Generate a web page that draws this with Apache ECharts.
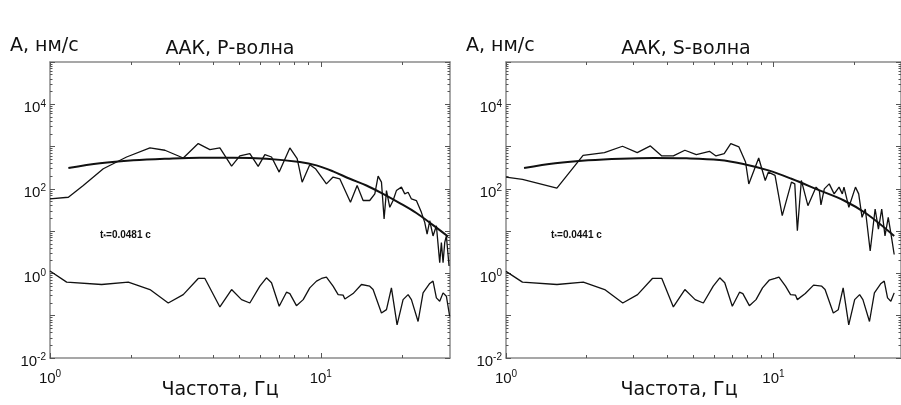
<!DOCTYPE html>
<html>
<head>
<meta charset="utf-8">
<script src="https://cdn.jsdelivr.net/npm/echarts@6/dist/echarts.min.js"></script>
<style>
html,body{margin:0;padding:0;background:#fff;}
#chart{width:901px;height:405px;}
</style>
</head>
<body>
<div id="chart"></div>
<script>
// ---------- data ----------
// P-wave panel
const freqP = [1.000,1.169,1.327,1.573,1.918,2.339,2.657,3.105,3.527,3.894,4.240,4.683,5.024,5.470,5.872,6.215,6.577,7.020,7.686,8.179,8.534,9.105,9.557,10.49,11.10,11.75,12.87,13.62,14.33,15.16,15.83,16.28,16.75,17.13,17.48,17.98,18.49,19.02,19.85,20.42,21.01,21.61,22.54,23.52,24.20,24.69,25.25,25.97,26.72,27.49,27.88,28.28,28.69,29.09,29.76];
const ampP = [57.8,63.3,120,299,567,930,818,537,1178,849,930,346,600,681,340,645,567,249,930,518,144,373,299,131,190,173,48,120,53,53,76,200,144,19.3,91,36.6,53,91,110,76,83,57.8,53,27.8,16.1,8.5,17.6,7.7,13.4,1.8,5.4,1.8,5.4,7.7,1.5];
const fitFreqP = [1.169,1.529,2.030,2.695,3.577,4.749,6.30,8.37,9.64,11.10,12.80,14.74,16.98,19.56,22.54,25.97,29.5];
const fitP = [310,401,473,518,547,547,518,431,359,259,173,120,76,46,26.8,13.9,7.5];
const noiseFreqP = [1,1.152,1.551,1.946,2.339,2.733,3.105,3.527,3.733,4.240,4.683,5.097,5.470,5.956,6.30,6.577,7.020,7.47,7.686,8.13,8.61,9.105,9.64,10.06,10.49,11.10,11.59,12.09,12.27,13.16,14.13,15.16,15.60,16.75,17.48,18.23,19.13,20.13,21.01,21.61,22.87,23.86,25.25,25.97,26.72,27.49,28.28,29.09,29.92];
const noiseP = [1.14,0.622,0.547,0.622,0.416,0.200,0.316,0.760,0.760,0.161,0.416,0.240,0.200,0.499,0.789,0.600,0.167,0.360,0.334,0.173,0.240,0.456,0.657,0.760,0.818,0.499,0.316,0.307,0.249,0.334,0.547,0.499,0.416,0.116,0.139,0.456,0.061,0.240,0.316,0.240,0.073,0.347,0.578,0.657,0.264,0.219,0.347,0.289,0.096];

// S-wave panel
const freqS = [1,1.152,1.550,1.942,2.334,2.727,3.096,3.467,3.826,4.225,4.665,5.149,5.766,6.100,6.546,6.927,7.432,7.866,8.09,8.81,9.32,9.58,10.14,10.79,11.68,12.02,12.29,12.72,13.46,14.44,14.85,15.06,15.50,16.17,16.87,17.60,18.10,18.36,19.15,20.27,20.84,21.45,22.06,23.01,24.01,24.70,25.41,26.14,26.88,27.65,28.29];
const ampS = [190,167,104,622,720,1018,720,1037,600,600,818,645,774,600,681,1178,982,431,131,537,158,249,208,23.2,144,131,10.2,158,40.1,110,91,41.6,100,131,76,110,76,110,36.6,110,76,21.2,33.4,3.4,33.4,11.2,33.4,7.7,21.2,7.1,2.8];
const fitFreqS = [1.168,1.528,2.027,2.689,3.566,4.730,6.275,7.645,9.58,11.68,14.64,18.36,22.37,28.29];
const fitS = [310,401,473,518,537,527,482,394,273,173,96,53,25.4,7.7];
const noiseFreqS = [1,1.152,1.551,1.946,2.339,2.733,3.105,3.527,3.826,4.225,4.665,5.097,5.470,5.956,6.30,6.577,7.020,7.47,7.686,8.13,8.61,9.105,9.64,10.14,10.49,11.10,11.59,12.09,12.29,13.16,14.13,15.16,15.60,16.75,17.48,18.23,19.13,20.13,21.01,21.61,22.87,23.86,25.25,25.97,26.72,27.49,28.29];
const noiseS = [1.12,0.622,0.547,0.622,0.416,0.200,0.316,0.760,0.760,0.161,0.416,0.240,0.200,0.499,0.789,0.600,0.167,0.360,0.334,0.173,0.240,0.456,0.690,0.760,0.818,0.499,0.316,0.307,0.240,0.334,0.530,0.499,0.416,0.116,0.139,0.456,0.061,0.240,0.316,0.240,0.073,0.347,0.578,0.657,0.264,0.219,0.347];

// axis ticks / labels
const xLabelVals = [1, 10];
const xMajorTicks = [1, 10];
const xMinorTicks = [2,3,4,5,6,7,8,9,20];
const yLabelVals = [0.01, 1, 100, 10000];
const yMajorTicks = [0.01, 0.1, 1, 10, 100, 1000, 10000, 100000];
const yMinorTicks = [];
for (let d = -2; d < 5; d++) for (let k = 2; k <= 9; k++) yMinorTicks.push(+(k * Math.pow(10, d)).toPrecision(3));

const titles = ['ААК, Р-волна', 'ААК, S-волна'];
const tLabels = ['0.0481 с', '0.0441 с'];
const yName = 'А, нм/с';
const xName = 'Частота, Гц';

// ---------- chart ----------
const zip = (a, b) => a.map((v, i) => [v, b[i]]);
const AX = '#8a8a8a';
const TK = '#555';
const richLbl = {
  b: {fontSize: 15, fontFamily: 'Liberation Sans', color: '#111'},
  e: {fontSize: 10, fontFamily: 'Liberation Sans', color: '#111', padding: [0, 0, 9, 0]}
};
const fmt = v => '{b|10}{e|' + Math.round(Math.log10(v)) + '}';

const grids = [
  {left: 50, top: 62, width: 400, height: 296},
  {left: 506, top: 62, width: 401, height: 296}
];
const xAxes = [], yAxes = [];
grids.forEach((g, gi) => {
  ['bottom', 'top'].forEach(pos => {
    xAxes.push({type: 'log', gridIndex: gi, min: 1, max: 30, position: pos,
      axisLine: {show: true, lineStyle: {color: AX, width: 1.5}},
      axisTick: {show: true, inside: true, length: 5, customValues: xMajorTicks, lineStyle: {color: TK}},
      axisLabel: pos === 'bottom' ? {show: true, customValues: xLabelVals, formatter: fmt, rich: richLbl, margin: 11} : {show: false},
      splitLine: {show: false}});
    xAxes.push({type: 'log', gridIndex: gi, min: 1, max: 30, position: pos,
      axisLine: {show: false},
      axisTick: {show: true, inside: true, length: 3, customValues: xMinorTicks, lineStyle: {color: TK}},
      axisLabel: {show: false}, splitLine: {show: false}});
  });
  ['left', 'right'].forEach(pos => {
    yAxes.push({type: 'log', gridIndex: gi, min: 0.01, max: 100000, position: pos,
      axisLine: {show: true, lineStyle: {color: AX, width: 1.5}},
      axisTick: {show: true, inside: true, length: 5, customValues: yMajorTicks, lineStyle: {color: TK}},
      axisLabel: pos === 'left' ? {show: true, customValues: yLabelVals, formatter: fmt, rich: richLbl, margin: 4, padding: [8, 0, 0, 0]} : {show: false},
      splitLine: {show: false}});
    yAxes.push({type: 'log', gridIndex: gi, min: 0.01, max: 100000, position: pos,
      axisLine: {show: false},
      axisTick: {show: true, inside: true, length: 2.5, customValues: yMinorTicks, lineStyle: {color: TK}},
      axisLabel: {show: false}, splitLine: {show: false}});
  });
});

const lineS = (gi, data, w, smooth) => ({
  type: 'line', xAxisIndex: gi * 4, yAxisIndex: gi * 4, data: data,
  showSymbol: false, symbol: 'none', smooth: smooth || false, animation: false,
  lineStyle: {color: '#111', width: w}
});

const series = [
  lineS(0, zip(freqP, ampP), 1.3),
  lineS(0, zip(fitFreqP, fitP), 2, 0.35),
  lineS(0, zip(noiseFreqP, noiseP), 1.3),
  lineS(1, zip(freqS, ampS), 1.3),
  lineS(1, zip(fitFreqS, fitS), 2, 0.35),
  lineS(1, zip(noiseFreqS, noiseS), 1.3)
];

const font19 = '19px "DejaVu Sans"';
const graphic = [];
grids.forEach((g, gi) => {
  const off = gi === 0 ? 0 : 456;
  graphic.push({type: 'text', x: 10 + off, y: 46, style: {text: yName, font: font19, fill: '#111', align: 'left', verticalAlign: 'middle'}});
  graphic.push({type: 'text', x: 230 + off, y: 49, style: {text: titles[gi], font: font19, fill: '#111', align: 'center', verticalAlign: 'middle'}});
  graphic.push({type: 'text', x: 220 + off + (gi ? 3 : 0), y: 390, style: {text: xName, font: font19, fill: '#111', align: 'center', verticalAlign: 'middle'}});
  graphic.push({type: 'text', x: 100 + off - (gi ? 5 : 0), y: 235, style: {
    text: '{t|t}{s|*}{t|=' + tLabels[gi] + '}', align: 'left', verticalAlign: 'middle',
    rich: {t: {font: 'bold 10px "Liberation Sans"', fill: '#111'}, s: {font: 'bold 7px "Liberation Sans"', fill: '#111', padding: [5, 0, 0, 0]}}
  }});
});

const chart = echarts.init(document.getElementById('chart'), null, {renderer: 'canvas'});
chart.setOption({
  animation: false,
  backgroundColor: '#fff',
  grid: grids,
  xAxis: xAxes,
  yAxis: yAxes,
  series: series,
  graphic: graphic
});
</script>
</body>
</html>
